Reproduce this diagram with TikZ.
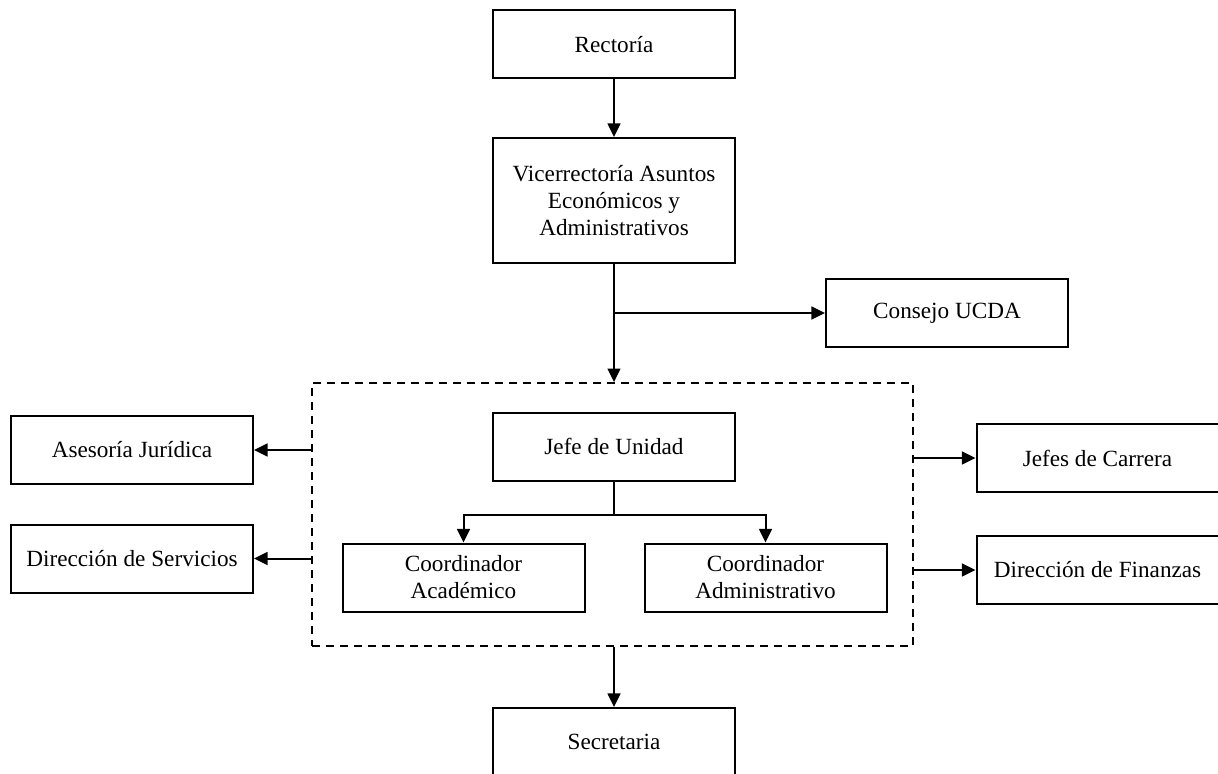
\documentclass[tikz,border=0pt]{standalone}
\usepackage{fontspec}
\setmainfont{Liberation Serif}
\usepackage{tikz}
\usetikzlibrary{positioning, calc, arrows.meta}
\tikzset{
  >={Triangle[length=6.8pt, width=6.4pt]},
  box/.style={
    draw=black, line width=1pt, rectangle,
    minimum width=121pt, minimum height=34pt,
    align=center, inner sep=2pt, fill=white,
    font=\fontsize{11.6}{13.5}\selectfont
  },
  unitbox/.style={
    draw=black, line width=0.9pt, dash pattern=on 4pt off 3pt,
    rectangle, minimum width=300.5pt, minimum height=131.5pt,
    inner sep=0pt
  },
  link/.style={line width=1pt, draw=black},
}

\begin{document}
\begin{tikzpicture}[x=50pt, y=50pt]

% ---- Frame (reference proportions) ---------------------------------
\useasboundingbox (0,0) rectangle (12.18,-7.74);

% ---- Nodes ---------------------------------------------------------
% central column
\node[box] (rectoria)  at (6.14, -0.445) {Rectoría};
\node[box, minimum height=62.5pt] (vicerr) at (6.14, -2.005)
  {Vicerrectoría Asuntos\\Económicos y\\Administrativos};
\node[box] (consejo)   at (9.47, -3.13)  {Consejo UCDA};

% unit (dashed frame) with its inner boxes
\node[unitbox] (unidad) at (6.125, -5.145) {};
\node[box] (jefe)       at (6.14,  -4.465) {Jefe de Unidad};
\node[box] (coordAcad)  at (4.635, -5.775) {Coordinador\\Académico};
\node[box] (coordAdmin) at (7.655, -5.775) {Coordinador\\Administrativo};

% side boxes
\node[box] (asesoria)   at (1.32,   -4.50) {Asesoría Jurídica};
\node[box] (dirServ)    at (1.32,   -5.585) {Dirección de Servicios};
\node[box] (jefesCarr)  at (10.975, -4.58) {Jefes de Carrera};
\node[box] (dirFin)     at (10.975, -5.70) {Dirección de Finanzas};

% bottom
\node[box] (secretaria) at (6.14, -7.42) {Secretaria};

% ---- Wires --------------------------------------------------------
\draw[link, ->] (rectoria.south) -- (vicerr.north);

% Vicerrectoria -> unit, with a branch to Consejo UCDA
\coordinate (v_br) at (vicerr.south |- consejo.west);
\draw[link, ->] (vicerr.south) -- (vicerr.south |- unidad.north);
\draw[link, ->] (v_br) -- (consejo.west);

% unit -> side boxes
\draw[link, ->] (unidad.west |- asesoria.east)  -- (asesoria.east);
\draw[link, ->] (unidad.west |- dirServ.east)   -- (dirServ.east);
\draw[link, ->] (unidad.east |- jefesCarr.west) -- (jefesCarr.west);
\draw[link, ->] (unidad.east |- dirFin.west)    -- (dirFin.west);

% Jefe de Unidad -> both coordinators
\coordinate (j_br) at ($(jefe.south) + (0,-0.33)$);
\draw[link] (jefe.south) -- (j_br);
\draw[link, ->] (j_br) -| (coordAcad.north);
\draw[link, ->] (j_br) -| (coordAdmin.north);

% unit -> Secretaria
\draw[link, ->] (unidad.south -| secretaria.north) -- (secretaria.north);

\end{tikzpicture}
\end{document}
